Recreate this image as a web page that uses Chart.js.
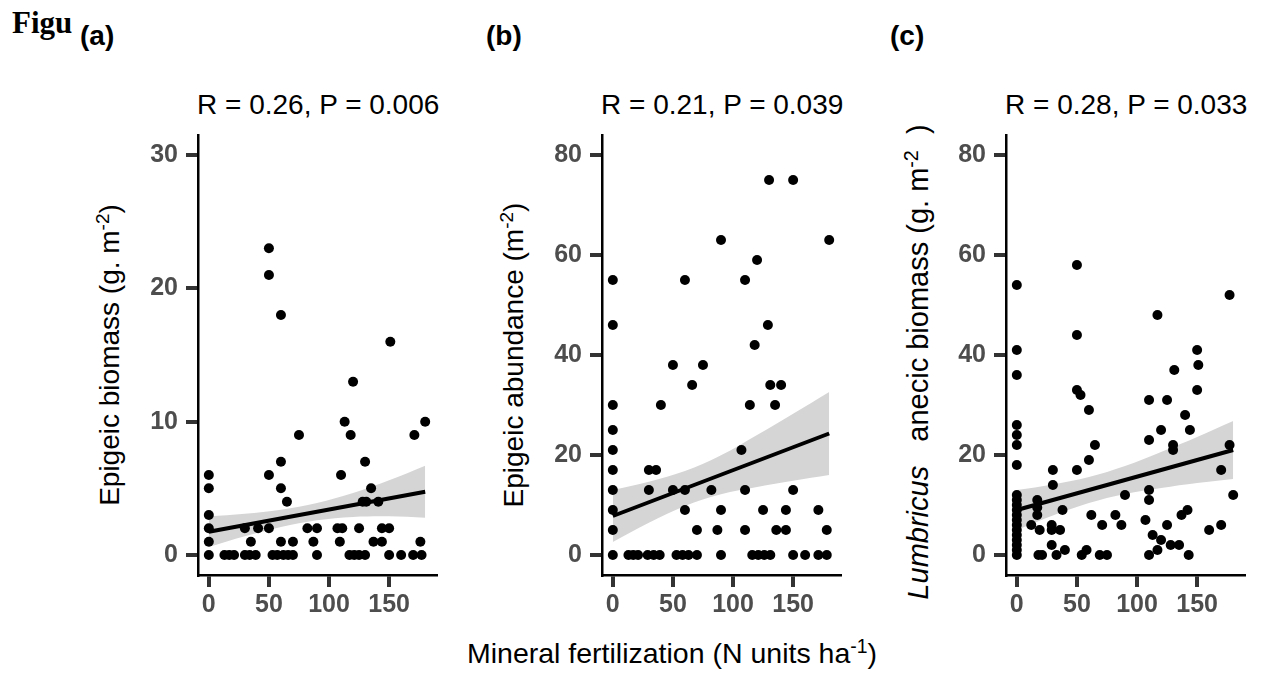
<!DOCTYPE html>
<html>
<head>
<meta charset="utf-8">
<script src="https://cdn.jsdelivr.net/npm/chart.js@4.4.1/dist/chart.umd.min.js"></script>
<style>
  html, body { margin: 0; padding: 0; background: #fff; }
  #page { position: relative; width: 1268px; height: 676px; overflow: hidden; font-family: "Liberation Sans", Arial, sans-serif; color: #000; }
  canvas { position: absolute; }
  .txt { position: absolute; white-space: nowrap; line-height: 1; font-size: 28px; }
  .tag { font-weight: bold; }
  .fig { font-family: "Liberation Serif", "Times New Roman", serif; font-weight: bold; font-size: 31px; }
  .ytitle { position: absolute; width: 0; height: 0; }
  .ytitle span { position: absolute; left: 0; top: 0; white-space: nowrap; line-height: 1; font-size: 28px; transform: translate(-50%, -50%) rotate(-90deg); }
  sup { font-size: 0.68em; vertical-align: 0.5em; line-height: 0; }
</style>
</head>
<body>
<div id="page">
  <div class="txt fig" style="left:12px; top:7px;">Figu</div>

  <div class="txt tag" style="left:80px; top:22px;">(a)</div>
  <div class="txt tag" style="left:486px; top:22px;">(b)</div>
  <div class="txt tag" style="left:890px; top:22px;">(c)</div>

  <div class="txt" style="left:197px; top:91px;">R = 0.26, P = 0.006</div>
  <div class="txt" style="left:601px; top:91px;">R = 0.21, P = 0.039</div>
  <div class="txt" style="left:1005px; top:91px;">R = 0.28, P = 0.033</div>

  <div class="ytitle" style="left:110px; top:355px;"><span>Epigeic biomass (g. m<sup>-2</sup>)</span></div>
  <div class="ytitle" style="left:514px; top:355px;"><span>Epigeic abundance (m<sup>-2</sup>)</span></div>
  <div class="ytitle" style="left:918px; top:362px;"><span style="font-size:29px;"><i>Lumbricus</i>&nbsp;&nbsp; anecic biomass (g. m<sup>-2</sup>&nbsp; )</span></div>

  <div class="txt" style="left:672px; top:639px; font-size:28.5px; transform:translateX(-50%);">Mineral fertilization (N units ha<sup>-1</sup>)</div>

  <canvas id="chartA" width="328" height="510" style="left:118px; top:105px;"></canvas>
  <canvas id="chartB" width="328" height="510" style="left:522px; top:105px;"></canvas>
  <canvas id="chartC" width="328" height="510" style="left:926px; top:105px;"></canvas>
</div>

<script>
// axes
const xTicks = [0, 50, 100, 150];
const yTicksA = [0, 10, 20, 30];
const yTicksBC = [0, 20, 40, 60, 80];

// (a) epigeic biomass
const fertA = [50, 50, 60, 151, 120, 113, 180, 75, 118, 171,
  0, 50, 110, 60, 130, 0, 60, 135, 65, 128, 131, 141,
  0,
  0, 30, 41, 50, 82, 90, 107, 111, 125, 144, 150,
  0, 35, 60, 70, 87, 109, 137, 144, 176,
  0, 13, 17, 21, 30, 34, 39, 53, 57, 62, 66, 70, 90, 117, 121, 125, 130, 150, 160, 170, 177];
const biomassA = [23, 21, 18, 16, 13, 10, 10, 9, 9, 9,
  6, 6, 6, 7, 7, 5, 5, 5, 4, 4, 4, 4,
  3,
  2, 2, 2, 2, 2, 2, 2, 2, 2, 2, 2,
  1, 1, 1, 1, 1, 1, 1, 1, 1,
  0, 0, 0, 0, 0, 0, 0, 0, 0, 0, 0, 0, 0, 0, 0, 0, 0, 0, 0, 0, 0];

// (b) epigeic abundance
const fertB = [130, 150, 90, 180, 120, 0, 60, 110, 0, 129, 118, 50, 75, 66, 131, 140,
  0, 40, 114, 135, 0, 0, 107, 0, 30, 36,
  0, 30, 50, 60, 82, 110, 150,
  0, 60, 90, 125, 144, 171,
  0, 70, 87, 110, 136, 144, 178,
  0, 13, 17, 21, 29, 34, 39, 53, 58, 63, 70, 90, 116, 121, 126, 131, 150, 160, 171, 178];
const abundB = [75, 75, 63, 63, 59, 55, 55, 55, 46, 46, 42, 38, 38, 34, 34, 34,
  30, 30, 30, 30, 25, 21, 21, 17, 17, 17,
  13, 13, 13, 13, 13, 13, 13,
  9, 9, 9, 9, 9, 9,
  5, 5, 5, 5, 5, 5, 5,
  0, 0, 0, 0, 0, 0, 0, 0, 0, 0, 0, 0, 0, 0, 0, 0, 0, 0, 0, 0];

// (c) Lumbricus anecic biomass
const fertC = [0, 0, 0, 0, 0, 0, 0, 0, 0, 0, 0, 0, 0, 0, 0, 0, 0, 0, 0, 0,
  50, 50, 50, 53, 60, 117, 131, 110, 125, 140, 120, 144, 110, 130, 130, 65, 60,
  30, 50, 30, 17, 17, 17, 38, 90, 110, 110,
  12, 19, 29, 29, 36, 29, 40, 33, 18, 21, 54, 58, 62, 71, 69, 75, 82, 87,
  107, 113, 120, 117, 110, 125, 128, 135, 137, 142, 143,
  150, 151, 150, 160, 177, 177, 170, 180, 170];
const biomassC = [0, 1, 2, 3, 4, 5, 6, 7, 8, 9, 10, 11, 12, 18, 22, 24, 26, 36, 41, 54,
  58, 44, 33, 32, 29, 48, 37, 31, 31, 28, 25, 25, 23, 22, 21, 22, 19,
  17, 17, 14, 11, 9.5, 8, 9, 12, 13, 11,
  6, 5, 6, 5, 5, 2, 1, 0, 0, 0, 0, 1, 8, 6, 0, 0, 8, 6,
  7, 4, 3, 1, 0, 6, 2, 2, 8, 9, 0,
  41, 38, 33, 5, 52, 22, 17, 12, 6];

// linear fits and confidence bands
const fitX = [0, 180];
const fitA = [1.75, 4.75];
const fitB = [7.8, 24.3];
const fitC = [9.0, 21.0];
const bandX = [0, 30, 60, 90, 120, 150, 180];
const upperA = [2.9, 3.1, 3.4, 3.9, 4.65, 5.6, 6.7];
const lowerA = [0.6, 1.4, 2.1, 2.6, 2.85, 2.9, 2.8];
const upperB = [13.0, 14.65, 16.8, 19.95, 24.0, 28.25, 32.6];
const lowerB = [2.6, 6.45, 9.8, 12.15, 13.6, 14.85, 16.0];
const upperC = [13.0, 14.1, 15.6, 17.8, 20.6, 23.6, 26.8];
const lowerC = [5.0, 7.9, 10.4, 12.2, 13.4, 14.4, 15.2];

const tickFont = { family: '"Liberation Sans", Arial, sans-serif', size: 25, weight: 'bold' };
const pairs = (xs, ys) => xs.map((x, i) => ({ x, y: ys[i] }));

function makePanel(id, xs, ys, fit, upper, lower, yMin, yMax, yTicks) {
    const ctx = document.getElementById(id).getContext('2d');
    return new Chart(ctx, {
        type: 'scatter',
        data: {
            datasets: [
                {
                    type: 'line',
                    data: pairs(fitX, fit),
                    borderColor: '#000',
                    borderWidth: 4,
                    pointRadius: 0,
                    fill: false,
                    order: 0
                },
                {
                    data: pairs(xs, ys),
                    backgroundColor: '#000',
                    borderWidth: 0,
                    pointRadius: 5,
                    order: 1
                },
                {
                    type: 'line',
                    data: pairs(bandX, upper),
                    borderColor: 'rgba(0,0,0,0)',
                    backgroundColor: '#d5d5d5',
                    pointRadius: 0,
                    tension: 0.35,
                    fill: '+1',
                    order: 2
                },
                {
                    type: 'line',
                    data: pairs(bandX, lower),
                    borderColor: 'rgba(0,0,0,0)',
                    pointRadius: 0,
                    tension: 0.35,
                    fill: false,
                    order: 3
                }
            ]
        },
        options: {
            responsive: false,
            animation: false,
            events: [],
            layout: { padding: { top: 30, right: 10, left: 0, bottom: 0 } },
            plugins: { legend: { display: false }, tooltip: { enabled: false }, title: { display: false } },
            scales: {
                x: {
                    type: 'linear',
                    min: -9,
                    max: 189,
                    afterBuildTicks: s => { s.ticks = xTicks.map(v => ({ value: v })); },
                    afterFit: s => { s.height = 40; },
                    grid: { drawOnChartArea: false, drawTicks: true, tickLength: 12, color: '#333', lineWidth: 4 },
                    border: { display: true, color: '#000', width: 2.5 },
                    ticks: { font: tickFont, color: '#4d4d4d', padding: 3, maxRotation: 0 }
                },
                y: {
                    type: 'linear',
                    min: yMin,
                    max: yMax,
                    afterBuildTicks: s => { s.ticks = yTicks.map(v => ({ value: v })); },
                    afterFit: s => { s.width = 80; },
                    grid: { drawOnChartArea: false, drawTicks: true, tickLength: 12, color: '#333', lineWidth: 4 },
                    border: { display: true, color: '#000', width: 2.5 },
                    ticks: { font: tickFont, color: '#4d4d4d', padding: 8 }
                }
            }
        }
    });
}

document.addEventListener('DOMContentLoaded', () => {
    makePanel('chartA', fertA, biomassA, fitA, upperA, lowerA, -1.5, 31.5, yTicksA);
    makePanel('chartB', fertB, abundB, fitB, upperB, lowerB, -4, 84, yTicksBC);
    makePanel('chartC', fertC, biomassC, fitC, upperC, lowerC, -4, 84, yTicksBC);
});
</script>
</body>
</html>
